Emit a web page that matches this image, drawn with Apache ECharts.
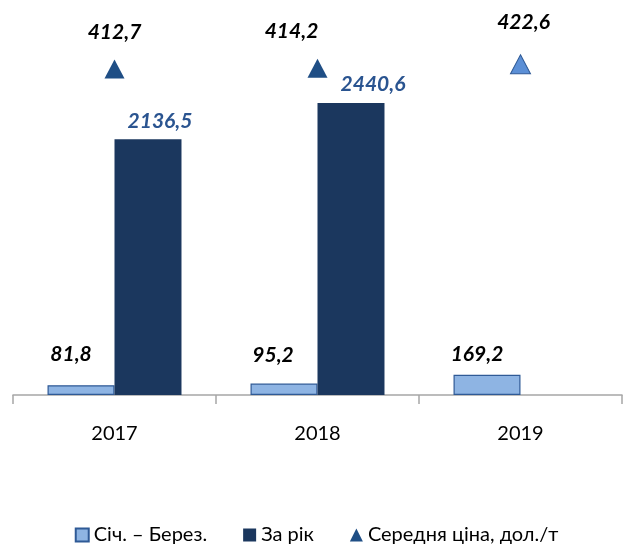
<!DOCTYPE html>
<html>
<head>
<meta charset="utf-8">
<script src="https://cdn.jsdelivr.net/npm/echarts@6/dist/echarts.min.js"></script>
<style>
  html, body { margin: 0; padding: 0; background: #fff; }
  #main { width: 633px; height: 548px; }
</style>
</head>
<body>
<div id="main"></div>
<script>
// категорії (роки)
var years = ['2017', '2018', '2019'];
// обсяги за січень-березень
var quarterVals = [81.8, 95.2, 169.2];
// обсяги за рік (2019 ще немає)
var yearVals = [2136.5, 2440.6, null];
// середня ціна, дол./т
var priceVals = [412.7, 414.2, 422.6];
var seriesNames = ['Січ. – Берез.', 'За рік', 'Середня ціна, дол./т'];

// зсуви підписів (лише оформлення)
var quarterShift = [[-10, -8], [-11, -6], [-10, 2]];
var yearShift = [[12, 0], [22, 0]];
var priceShift = [[0, 0], [-26, 0], [3, -5]];

var font = 'Lato, "Open Sans", sans-serif';

function fmt(p) {
  return p.value == null ? '' : Number(p.value).toFixed(1).replace('.', ',');
}

var chart = echarts.init(document.getElementById('main'));

var quarterData = quarterVals.map(function (v, i) {
  return { value: v, label: { offset: quarterShift[i] } };
});
var yearData = yearVals.map(function (v, i) {
  return v == null ? null : { value: v, label: { offset: yearShift[i] } };
});
var priceData = priceVals.map(function (v, i) {
  var d = { value: v, label: { offset: priceShift[i] } };
  // 2019 - світліший трикутник
  if (i === 2) d.itemStyle = { color: '#5b8fd6', borderColor: '#2f5a96', borderWidth: 1, opacity: 1 };
  return d;
});

var labelBase = {
  show: true, position: 'top', fontSize: 21,
  fontWeight: 'bold', fontStyle: 'italic', fontFamily: font, formatter: fmt
};

chart.setOption({
  animation: false,
  textStyle: { fontFamily: font },
  grid: { left: 13, right: 11, top: 36, bottom: 153 },
  legend: {
    top: 520,
    left: 'center',
    itemGap: 36,
    itemWidth: 13,
    itemHeight: 13,
    textStyle: { fontSize: 20, color: '#000', fontFamily: font },
    data: [
      { name: seriesNames[0], icon: 'rect' },
      { name: seriesNames[1], icon: 'rect' },
      { name: seriesNames[2], icon: 'triangle', itemStyle: { color: '#1f4e85', borderWidth: 0, opacity: 1 } }
    ]
  },
  xAxis: {
    type: 'category',
    data: years,
    axisLine: { lineStyle: { color: '#a6a6a6', width: 1.5 } },
    axisTick: { show: true, length: 9, lineStyle: { color: '#a6a6a6', width: 1.5 } },
    axisLabel: { fontSize: 20, color: '#000', margin: 29, fontFamily: font }
  },
  yAxis: [
    { type: 'value', min: 0, max: 3000, show: false },
    { type: 'value', min: -250, max: 480, show: false }
  ],
  series: [
    {
      name: seriesNames[0],
      type: 'bar',
      data: quarterData,
      barGap: 0,
      barCategoryGap: '34%',
      itemStyle: { color: '#8eb4e3', borderColor: '#2f5a96', borderWidth: 1.2 },
      label: Object.assign({}, labelBase, { distance: 12, color: '#000' })
    },
    {
      name: seriesNames[1],
      type: 'bar',
      data: yearData,
      itemStyle: { color: '#1b375e' },
      label: Object.assign({}, labelBase, { distance: 8, color: '#2a5490' })
    },
    {
      name: seriesNames[2],
      type: 'scatter',
      yAxisIndex: 1,
      data: priceData,
      symbol: 'triangle',
      symbolSize: [20, 19],
      itemStyle: { color: '#1f4e85', opacity: 1 },
      label: Object.assign({}, labelBase, { distance: 17, color: '#000' })
    }
  ]
});
</script>
</body>
</html>
